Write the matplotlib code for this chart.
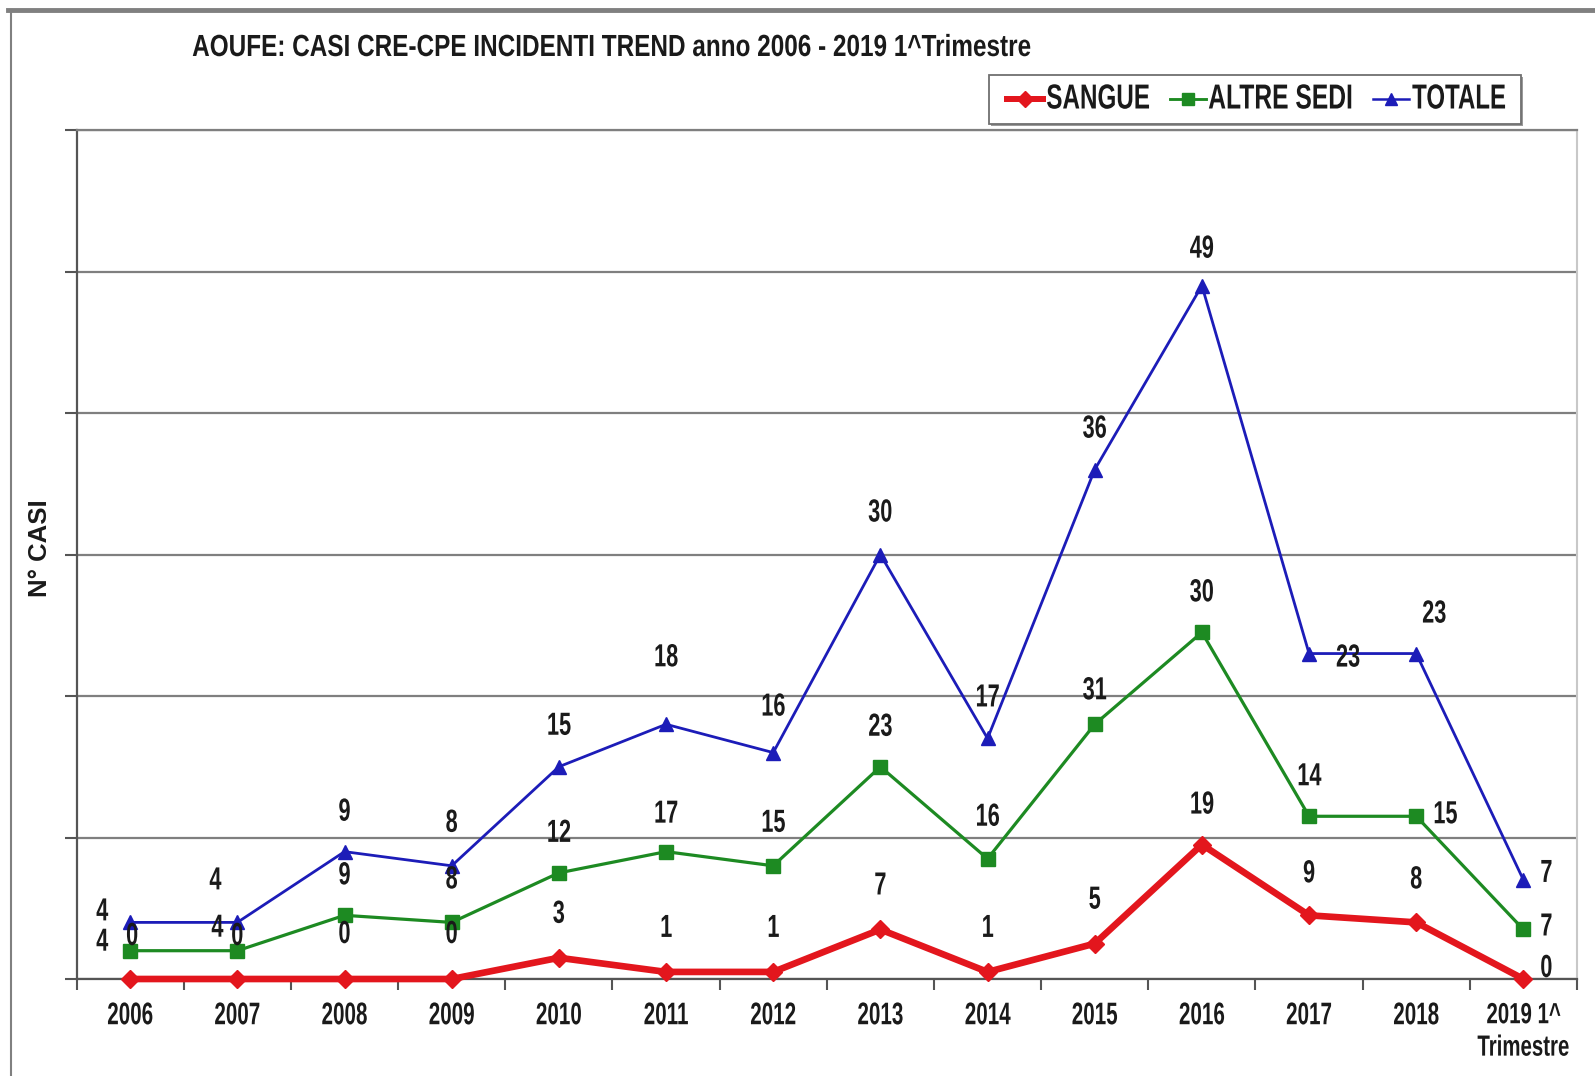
import matplotlib
matplotlib.use("Agg")
import matplotlib.pyplot as plt
from matplotlib.lines import Line2D
from matplotlib.patches import Rectangle
from matplotlib.patheffects import AbstractPathEffect
from matplotlib.transforms import Affine2D
import numpy as np

# ---- data ----
categories = ["2006", "2007", "2008", "2009", "2010", "2011", "2012",
              "2013", "2014", "2015", "2016", "2017", "2018", "2019 1^\nTrimestre"]
sangue = [0, 0, 0, 0, 3, 1, 1, 7, 1, 5, 19, 9, 8, 0]
altre_sedi = [4, 4, 9, 8, 12, 17, 15, 23, 16, 31, 30, 14, 15, 7]
totale = [4, 4, 9, 8, 15, 18, 16, 30, 17, 36, 49, 23, 23, 7]

series_names = ["SANGUE", "ALTRE SEDI", "TOTALE"]
title_text = "AOUFE: CASI CRE-CPE INCIDENTI TREND anno 2006 - 2019 1^Trimestre"
y_label = "N° CASI"

plt.rcParams["font.family"] = ["Liberation Sans", "DejaVu Sans"]
plt.rcParams["font.weight"] = "bold"


class Squeeze(AbstractPathEffect):
    """Draw text horizontally condensed (narrow typeface look)."""

    def __init__(self, sx, anchor="center"):
        super().__init__()
        self.sx = sx
        self.anchor = anchor

    def draw_path(self, renderer, gc, tpath, affine, rgbFace=None):
        ext = tpath.get_extents()
        cx = ext.x0 if self.anchor == "left" else 0.5 * (ext.x0 + ext.x1)
        t = Affine2D().translate(-cx, 0).scale(self.sx, 1).translate(cx, 0) + affine
        renderer.draw_path(gc, tpath, t, rgbFace)


W, H = 1595, 1076
fig = plt.figure(figsize=(W / 100, H / 100), dpi=100)
fig.patch.set_facecolor("white")
renderer = fig.canvas.get_renderer()


def fx(px):
    return px / W


def fy(py):
    return 1 - py / H


ax = fig.add_axes([fx(76.6), fy(979), (1577 - 76.6) / W, (979 - 130) / H])

x = np.arange(len(categories))
# stacked lines: each series sits on top of the previous ones
cum_s = np.array(sangue, dtype=float)
cum_a = cum_s + np.array(altre_sedi)
cum_t = cum_a + np.array(totale)

red = "#e3161d"
green = "#1d8a22"
blue = "#1c1cb8"
styles = [
    dict(color=red, lw=4.8, marker="D", ms=9.5, mfc=red, mec=red),
    dict(color=green, lw=2.3, marker="s", ms=9.5, mfc=green, mec=green),
    dict(color=blue, lw=2.0, marker="^", ms=10, mfc=blue, mec=blue),
]

ax.plot(x, cum_s, zorder=5, clip_on=False, **styles[0])
ax.plot(x, cum_a, zorder=4, clip_on=False, **styles[1])
ax.plot(x, cum_t, zorder=3, clip_on=False, **styles[2])

ax.set_xlim(-0.5, len(categories) - 0.5)
ax.set_ylim(0, 120)

# gridlines / ticks
ax.set_yticks(np.arange(0, 121, 20))
ax.set_yticklabels([])
ax.yaxis.grid(True, color="#7f7f7f", lw=1.6, zorder=1)
ax.tick_params(axis="y", length=9, width=1.5, color="#555555", direction="out")
ax.set_xticks(x)
ax.set_xticklabels(categories, fontsize=22.5, fontweight="bold", color="#1a1a1a",
                   linespacing=1.2)
ax.tick_params(axis="x", length=0, pad=16)
ax.set_xticks(np.arange(-0.5, len(categories), 1), minor=True)
ax.tick_params(axis="x", which="minor", length=8, width=1.5, color="#555555",
               direction="out")
xt = ax.get_xticklabels()
for t in xt:
    t.set_path_effects([Squeeze(0.66)])
xt[-1].set_fontsize(21)
xt[-1].set_path_effects([Squeeze(0.70)])

for side in ["left", "bottom"]:
    ax.spines[side].set_color("#555555")
    ax.spines[side].set_linewidth(1.6)
ax.spines["top"].set_color("#7f7f7f")
ax.spines["top"].set_linewidth(1.6)
ax.spines["right"].set_color("#c8c8c8")
ax.spines["right"].set_linewidth(1.5)
ax.set_axisbelow(True)

# value labels (offsets in pixels)
off_t = [(-28, 10), (-22, 41), (0, 39), (0, 42), (0, 40), (0, 66), (0, 45),
         (0, 41), (0, 40), (0, 40), (0, 36), (39, -5), (18, 39), (23, 6)]
off_a = [(-28, 8), (-20, 22), (0, 39), (0, 42), (0, 39), (0, 37), (0, 42),
         (0, 39), (0, 41), (0, 33), (0, 39), (0, 39), (29, 1), (23, 2)]
off_s = [(2, 42), (0, 42), (0, 44), (0, 44), (0, 43), (0, 43), (0, 43),
         (0, 43), (0, 43), (0, 43), (0, 39), (0, 41), (0, 42), (23, 10)]

lab_kw = dict(textcoords="offset pixels", ha="center", va="center",
              fontsize=23, fontweight="bold", color="#1a1a1a", zorder=6,
              path_effects=[Squeeze(0.68)])
for i in range(len(categories)):
    ax.annotate(str(totale[i]), (x[i], cum_t[i]), xytext=off_t[i], **lab_kw)
    ax.annotate(str(altre_sedi[i]), (x[i], cum_a[i]), xytext=off_a[i], **lab_kw)
    ax.annotate(str(sangue[i]), (x[i], cum_s[i]), xytext=off_s[i], **lab_kw)

# axis label
fig.text(fx(40), fy(548), y_label, rotation=90, ha="center", va="center",
         fontsize=18.5, fontweight="bold", color="#1a1a1a")


def squeezed_text(px, py, s, width, **kw):
    """Left-anchored text condensed to span the given pixel width."""
    t = fig.text(fx(px), fy(py), s, ha="left", va="center", **kw)
    natural = t.get_window_extent(renderer).width
    t.set_path_effects([Squeeze(width / natural, anchor="left")])
    return t


# title
squeezed_text(192, 48, title_text, 837, fontsize=22, fontweight="bold",
              color="#1a1a1a")

# legend box with shadow
fig.add_artist(Rectangle((fx(991), fy(126)), (1521 - 989) / W, (124 - 75) / H,
                         transform=fig.transFigure, facecolor="#9a9a9a",
                         edgecolor="none", zorder=9))
fig.add_artist(Rectangle((fx(989), fy(124)), (1521 - 989) / W, (124 - 75) / H,
                         transform=fig.transFigure, facecolor="white",
                         edgecolor="#707070", lw=1.3, zorder=10))
leg_handles = [(1007, 1043), (1170, 1206), (1373, 1409)]
leg_text = [(1046, 104), (1208, 145), (1412, 94)]
for name, st, (h0, h1), (tx, tw) in zip(series_names, styles, leg_handles, leg_text):
    hs = dict(st)
    hs["ms"] = st["ms"] * 0.85
    hs["lw"] = st["lw"] * 0.9
    fig.add_artist(Line2D([fx(h0), fx(h1)], [fy(99), fy(99)],
                          transform=fig.transFigure, zorder=11,
                          color=hs["color"], lw=hs["lw"]))
    fig.add_artist(Line2D([fx((h0 + h1) / 2)], [fy(99)], transform=fig.transFigure,
                          zorder=12, linestyle="None", marker=hs["marker"],
                          ms=hs["ms"], mfc=hs["mfc"], mec=hs["mec"]))
    t = squeezed_text(tx, 99, name, tw, fontsize=25, fontweight="bold",
                      color="#1a1a1a")
    t.set_zorder(12)

# outer frame
fig.add_artist(Line2D([fx(8), 1.0], [fy(10), fy(10)], color="#808080",
                      lw=3.5, transform=fig.transFigure))
fig.add_artist(Line2D([fx(11), fx(11)], [fy(10), 0.0], color="#808080",
                      lw=1.5, transform=fig.transFigure))

fig.savefig("out.png", dpi=100, facecolor="white")
